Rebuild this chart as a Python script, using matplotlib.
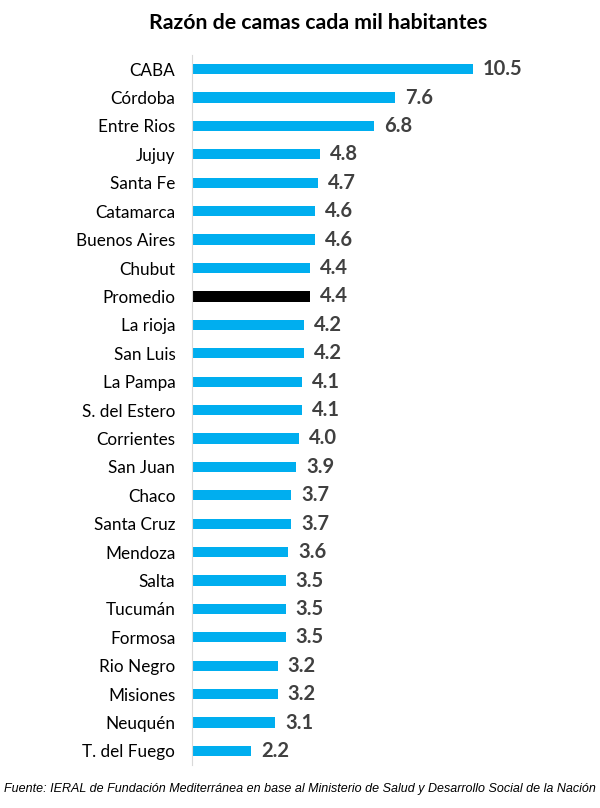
import numpy as np
import matplotlib.pyplot as plt

provincias = ['CABA', 'Córdoba', 'Entre Rios', 'Jujuy', 'Santa Fe', 'Catamarca',
              'Buenos Aires', 'Chubut', 'Promedio', 'La rioja', 'San Luis',
              'La Pampa', 'S. del Estero', 'Corrientes', 'San Juan', 'Chaco',
              'Santa Cruz', 'Mendoza', 'Salta', 'Tucumán', 'Formosa',
              'Rio Negro', 'Misiones', 'Neuquén', 'T. del Fuego']
camas = [10.5, 7.6, 6.8, 4.8, 4.7, 4.6, 4.6, 4.4, 4.4, 4.2, 4.2, 4.1, 4.1,
         4.0, 3.9, 3.7, 3.7, 3.6, 3.5, 3.5, 3.5, 3.2, 3.2, 3.1, 2.2]

colores = ['black' if p == 'Promedio' else '#00AEEF' for p in provincias]

fig = plt.figure(figsize=(6, 8.08), dpi=100)
ax = fig.add_axes([0.32, 0.053, 0.66, 0.879])

y = np.arange(len(provincias))
ax.barh(y, camas, height=0.36, color=colores)
ax.set_ylim(24.5, -0.5)
ax.set_xlim(0, 396 / 26.76)

for yi, v in zip(y, camas):
    ax.text(v + 0.37, yi, f'{v:.1f}', va='center', ha='left', fontsize=14.5,
            fontweight='bold', color='#404040', family='Lato')

ax.set_yticks(y)
ax.set_yticklabels(provincias, fontsize=12.3, family='Lato', color='black')
ax.tick_params(axis='y', length=0, pad=12)
ax.set_xticks([])
for s in ['top', 'right', 'bottom']:
    ax.spines[s].set_visible(False)
ax.spines['left'].set_color('#d9d9d9')
ax.spines['left'].set_linewidth(0.8)

fig.text(0.53, 0.972, 'Razón de camas cada mil habitantes', ha='center', va='center',
         fontsize=15.3, fontweight='bold', family='Lato')
fig.text(0.5, 0.023, 'Fuente: IERAL de Fundación Mediterránea en base al Ministerio de Salud y Desarrollo Social de la Nación',
         ha='center', va='center', fontsize=9, style='italic', family='Liberation Sans')

plt.savefig('out.png', dpi=100)
